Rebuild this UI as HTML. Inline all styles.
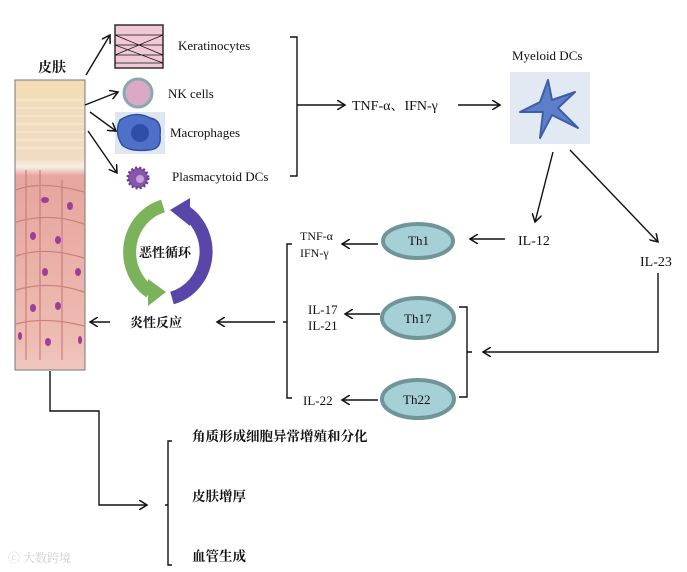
<!DOCTYPE html>
<html><head><meta charset="utf-8"><style>
body{margin:0;background:#fff}
svg{display:block}
text{font-family:"Liberation Serif","Noto Serif CJK SC",serif;fill:#111}
.cn{font-family:"Liberation Serif","Noto Serif CJK SC",serif;font-weight:bold}
</style></head><body>
<svg width="687" height="572" viewBox="0 0 687 572" xmlns="http://www.w3.org/2000/svg">
<defs>
<marker id="a" markerWidth="10" markerHeight="10" refX="8" refY="5" orient="auto" markerUnits="userSpaceOnUse"><path d="M0,0 L8,5 L0,10" fill="none" stroke="#111" stroke-width="1.5"/></marker>
<linearGradient id="sk" x1="0" y1="0" x2="0" y2="1">
<stop offset="0" stop-color="#f3dcb5"/><stop offset="0.27" stop-color="#f1dcc4"/><stop offset="0.3" stop-color="#f7efe6"/><stop offset="0.33" stop-color="#e7a59f"/><stop offset="0.9" stop-color="#eebcb2"/><stop offset="1" stop-color="#f2c7c0"/></linearGradient>
</defs>
<g stroke="#111" stroke-width="1.4" fill="none">
<rect x="15" y="80" width="70" height="290" fill="url(#sk)" stroke="#777" stroke-width="1"/>
<g stroke="#fff" stroke-width="0.8" opacity="0.7"><path d="M16 100 H84 M16 108 H84 M16 116 H84 M16 124 H84 M16 132 H84 M16 140 H84 M16 148 H84"/></g>
<g stroke="#c97f7c" stroke-width="1.2"><path d="M16 190 Q40 180 84 192 M16 222 Q50 212 84 224 M16 256 Q45 246 84 258 M16 290 Q50 280 84 292 M16 324 Q45 316 84 326 M40 170 V360 M62 180 V360 M26 170 V360"/></g>
<g fill="#9b3f9b" stroke="none"><ellipse cx="45" cy="200" rx="4" ry="3"/><ellipse cx="70" cy="206" rx="3" ry="4"/><ellipse cx="33" cy="236" rx="3" ry="4"/><ellipse cx="58" cy="240" rx="3" ry="4"/><ellipse cx="78" cy="272" rx="3" ry="4"/><ellipse cx="45" cy="272" rx="3" ry="4"/><ellipse cx="33" cy="308" rx="3" ry="4"/><ellipse cx="58" cy="306" rx="3" ry="4"/><ellipse cx="20" cy="336" rx="2" ry="4"/><ellipse cx="48" cy="342" rx="3" ry="4"/><ellipse cx="80" cy="340" rx="2" ry="4"/></g>
<rect x="115" y="25" width="48" height="43" fill="#f1c9d6" stroke="#222"/>
<path d="M115 35 H163 M115 45 H163 M115 55 H163 M115 63 H163 M115 35 L163 55 M163 35 L115 55 M115 45 L163 63" stroke-width="0.8"/>
<circle cx="138" cy="93" r="14" fill="#dba8c5" stroke="#8aa" stroke-width="3"/>
<rect x="115" y="112" width="50" height="42" fill="#dfe6f0" stroke="none"/>
<path d="M120 120 Q135 110 150 118 Q162 120 160 135 Q162 150 148 150 Q130 152 122 145 Q114 132 120 120Z" fill="#4f70c8" stroke="#2d4c9c"/>
<circle cx="140" cy="133" r="9" fill="#2c4fa8" stroke="none"/>
<circle cx="138" cy="178" r="10" fill="#8656ad" stroke="#6a3b90" stroke-dasharray="2 2" stroke-width="3"/>
<circle cx="140" cy="179" r="4" fill="#c7a1d8" stroke="none"/>
<path d="M86 75 L110 35" marker-end="url(#a)"/>
<path d="M85 105 L118 92" marker-end="url(#a)"/>
<path d="M90 112 L116 131" marker-end="url(#a)"/>
<path d="M88 131 L117 173" marker-end="url(#a)"/>
<path d="M290 37 H297 V176 H290 M297 105 H300"/>
<path d="M300 105 H345" marker-end="url(#a)"/>
<path d="M458 105 H500" marker-end="url(#a)"/>
<rect x="510" y="72" width="80" height="72" fill="#e3e9f3" stroke="none"/>
<path d="M548 80 L552 100 L575 92 L558 108 L578 128 L552 115 L540 138 L543 112 L520 112 L540 102 Z" fill="#5d7fc9" stroke="#3d5ea8" stroke-width="2" stroke-linejoin="round"/>
<path d="M553 152 L535 222" marker-end="url(#a)"/>
<path d="M570 150 L658 242" marker-end="url(#a)"/>
<path d="M505 239 H470" marker-end="url(#a)"/>
<path d="M378 244 H342" marker-end="url(#a)"/>
<path d="M380 314 H345" marker-end="url(#a)"/>
<path d="M378 400 H342" marker-end="url(#a)"/>
<path d="M658 273 V352 H483" marker-end="url(#a)"/>
<path d="M459 307 H467 V397 H459 M467 352 H472"/>
<path d="M292 244 H287 V398 H292 M287 322 H283"/>
<path d="M275 322 H217" marker-end="url(#a)"/>
<path d="M110 322 H90" marker-end="url(#a)"/>
<path d="M50 371 V411 H99 V505 H147" marker-end="url(#a)"/>
<path d="M172 441 H168 V565 H172 M168 505 H165"/>
</g>
<g fill="#a5d0d6" stroke="#6f9598" stroke-width="4">
<ellipse cx="418" cy="241" rx="35" ry="17"/>
<ellipse cx="418" cy="318" rx="36" ry="20"/>
<ellipse cx="418" cy="399" rx="36" ry="19"/>
</g>
<path d="M163 206 A46 48 0 0 0 150 292" fill="none" stroke="#7bb35a" stroke-width="13"/>
<path d="M148 279 L166 292 L148 306 Z" fill="#7bb35a"/>
<path d="M172 298 A46 48 0 0 0 186 212" fill="none" stroke="#5a45a8" stroke-width="13"/>
<path d="M190 198 L170 210 L190 226 Z" fill="#5a45a8"/>
<g font-size="13">
<text x="38" y="72" class="cn" font-size="14">皮肤</text>
<text x="178" y="50">Keratinocytes</text>
<text x="168" y="98">NK cells</text>
<text x="170" y="137">Macrophages</text>
<text x="172" y="181">Plasmacytoid DCs</text>
<text x="352" y="110" font-size="14">TNF-α、IFN-γ</text>
<text x="512" y="60">Myeloid DCs</text>
<text x="518" y="245" font-size="14">IL-12</text>
<text x="640" y="266" font-size="14">IL-23</text>
<text x="300" y="240" font-size="12">TNF-α</text>
<text x="300" y="257" font-size="12">IFN-γ</text>
<text x="308" y="314">IL-17</text>
<text x="308" y="330">IL-21</text>
<text x="303" y="405">IL-22</text>
<text x="408" y="245">Th1</text>
<text x="404" y="323">Th17</text>
<text x="403" y="404">Th22</text>
<text x="139" y="257" class="cn">恶性循环</text>
<text x="130" y="327" class="cn">炎性反应</text>
<text x="192" y="441" class="cn" font-size="13.5">角质形成细胞异常增殖和分化</text>
<text x="192" y="501" class="cn" font-size="13.5">皮肤增厚</text>
<text x="192" y="561" class="cn" font-size="13.5">血管生成</text>
<text x="8" y="562" style="fill:#d0d0d0;font-weight:normal" font-size="12">ⓒ 大数跨境</text>
</g>
</svg>
</body></html>
